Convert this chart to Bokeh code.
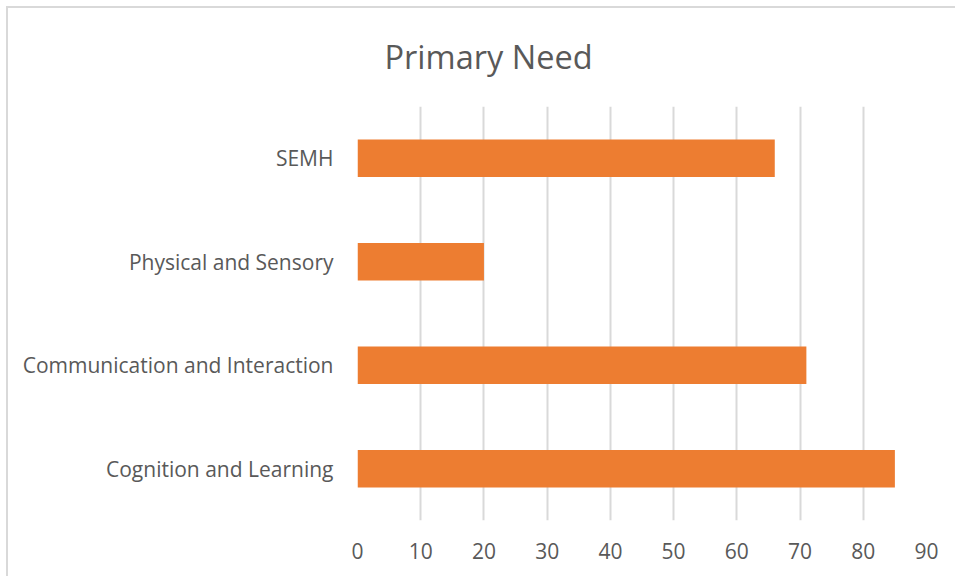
from bokeh.plotting import figure
from bokeh.models import FixedTicker
from bokeh.embed import file_html
from bokeh.resources import INLINE

categories = ["Cognition and Learning", "Communication and Interaction", "Physical and Sensory", "SEMH"]
values = [85, 71, 20, 66]
ticks = [0, 10, 20, 30, 40, 50, 60, 70, 80, 90]

FONT = "Open Sans"
TXT = "#595959"

p = figure(width=949, height=570, y_range=categories, x_range=(0, 90),
           output_backend="svg", toolbar_location=None, title="Primary Need",
           min_border_left=349, min_border_right=31, min_border_top=97, min_border_bottom=58)
p.styles = {"margin-left": "6px", "margin-top": "6px",
            "border-left": "2px solid #d9d9d9", "border-top": "2px solid #d9d9d9"}

p.hbar(y=categories, right=values, left=0, height=0.36, color="#ED7D31", line_color=None)

p.title.text_font = FONT
p.title.text_font_size = "32.5px"
p.title.text_font_style = "normal"
p.title.text_color = TXT
p.title.align = "left"
p.title.offset = 27
p.title.standoff = 51
p.title.vertical_align = "top"

p.outline_line_color = None
p.xaxis.ticker = FixedTicker(ticks=ticks)
p.xaxis.axis_line_color = None
p.xaxis.major_tick_line_color = None
p.xaxis.minor_tick_line_color = None
p.xaxis.major_label_text_font = FONT
p.xaxis.major_label_text_font_size = "21px"
p.xaxis.major_label_text_color = TXT
p.xaxis.major_label_standoff = 16

p.yaxis.axis_line_color = None
p.yaxis.major_tick_line_color = None
p.yaxis.major_label_text_font = FONT
p.yaxis.major_label_text_font_size = "21px"
p.yaxis.major_label_text_color = TXT
p.yaxis.major_label_standoff = 18

p.xgrid.grid_line_color = "#d9d9d9"
p.xgrid.grid_line_width = 2
p.ygrid.grid_line_color = None

open("out.html", "w").write(file_html(p, INLINE))
